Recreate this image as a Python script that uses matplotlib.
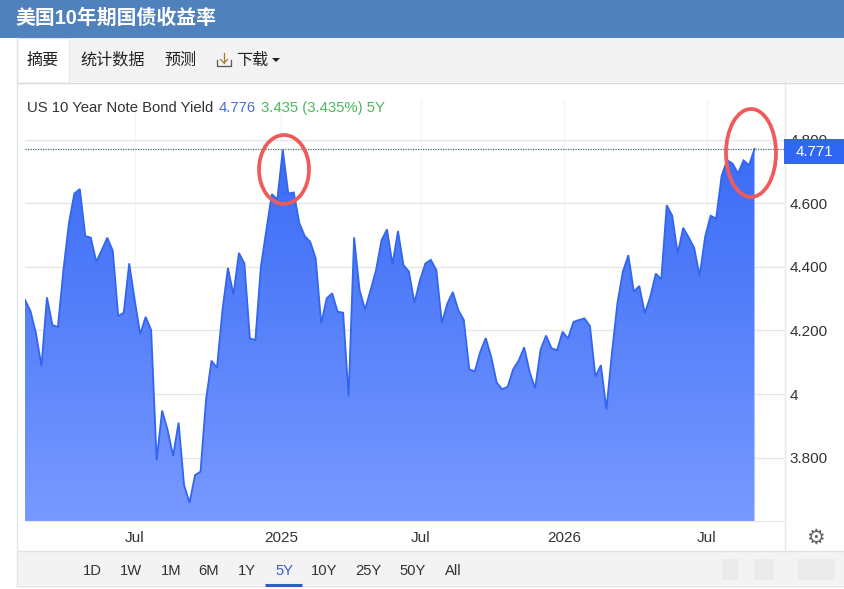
import numpy as np
import matplotlib
matplotlib.use("Agg")
import matplotlib.pyplot as plt
from matplotlib.patches import Rectangle, Ellipse, Polygon
from matplotlib.colors import LinearSegmentedColormap

plt.rcParams['font.family'] = ['Liberation Sans', 'Noto Sans CJK SC', 'DejaVu Sans']

title = "美国10年期国债收益率"
tabs = ["摘要", "统计数据", "预测", "下载"]
ranges = ["1D", "1W", "1M", "6M", "1Y", "5Y", "10Y", "25Y", "50Y", "All"]
yields = [
    4.296, 4.261, 4.191, 4.088, 4.304, 4.217, 4.211, 4.390, 4.537, 4.631,
    4.645, 4.497, 4.492, 4.416, 4.453, 4.492, 4.451, 4.245, 4.256, 4.411,
    4.296, 4.188, 4.243, 4.201, 3.792, 3.948, 3.887, 3.805, 3.910, 3.714,
    3.658, 3.745, 3.756, 3.981, 4.105, 4.082, 4.264, 4.397, 4.313, 4.444,
    4.411, 4.175, 4.170, 4.400, 4.516, 4.629, 4.612, 4.769, 4.631, 4.634,
    4.539, 4.497, 4.479, 4.427, 4.222, 4.301, 4.317, 4.259, 4.256, 3.992,
    4.493, 4.327, 4.266, 4.327, 4.390, 4.484, 4.518, 4.408, 4.513, 4.406,
    4.385, 4.287, 4.358, 4.411, 4.422, 4.390, 4.224, 4.285, 4.321, 4.264,
    4.233, 4.078, 4.071, 4.133, 4.176, 4.117, 4.036, 4.015, 4.023, 4.078,
    4.105, 4.147, 4.070, 4.018, 4.140, 4.184, 4.144, 4.138, 4.196, 4.175,
    4.227, 4.233, 4.238, 4.214, 4.055, 4.091, 3.952, 4.128, 4.285, 4.385,
    4.437, 4.322, 4.340, 4.254, 4.306, 4.379, 4.361, 4.594, 4.561, 4.442,
    4.523, 4.493, 4.460, 4.372, 4.495, 4.561, 4.552, 4.686, 4.736, 4.725,
    4.694, 4.735, 4.720, 4.771,
]
weeks = np.arange(len(yields))
x_tick_pos = [20.0, 46.7, 72.2, 98.3, 124.3]
x_tick_labels = ["Jul", "2025", "Jul", "2026", "Jul"]
y_ticks = [3.8, 4.0, 4.2, 4.4, 4.6, 4.8]
y_tick_labels = ["3.800", "4", "4.200", "4.400", "4.600", "4.800"]
last_value = 4.771

W, H = 844, 589
fig = plt.figure(figsize=(W / 100, H / 100), dpi=100, facecolor="white")

# page chrome, in pixels
bg = fig.add_axes([0, 0, 1, 1], zorder=0)
bg.set_xlim(0, W); bg.set_ylim(H, 0); bg.axis("off")
bg.add_patch(Rectangle((0, 0), W, 37.5, fc="#4f81bd", ec="none"))
bg.text(15, 18, title, color="white", fontsize=14.3, fontweight="bold", va="center", ha="left")
bg.add_patch(Rectangle((17, 38), W - 17, 44, fc="#f3f3f3", ec="none"))
bg.plot([17, W], [82.5, 82.5], color="#d8d8d8", lw=1)
bg.add_patch(Rectangle((17, 38), 52, 44.5, fc="white", ec="#e4e4e4", lw=0.8))
for label, x in zip(tabs, [27, 80, 164, 236]):
    bg.text(x, 60, label, color="#222222", fontsize=11.6, va="center", ha="left")
bg.plot([217, 217, 231, 231], [60, 66, 66, 60], color="#555555", lw=0.9)
bg.plot([224, 224], [53, 63], color="#a87a30", lw=0.9)
bg.plot([220.5, 224, 227.5], [59.5, 63, 59.5], color="#a87a30", lw=0.9)
bg.add_patch(Polygon([[272, 58], [280, 58], [276, 62]], fc="#222222", ec="none"))
bg.plot([16.5, 16.5], [38, 585], color="#e2e6ea", lw=1)
bg.add_patch(Rectangle((17, 551), W - 17, 34, fc="#f3f3f3", ec="none"))
bg.plot([17, W], [550.5, 550.5], color="#e2e2e2", lw=1)
bg.plot([17, W], [585.5, 585.5], color="#e2e2e2", lw=1)
bg.plot([784.5, 784.5], [82, 550], color="#e6e6e6", lw=1)
for label, x in zip(ranges, [92, 131, 171, 209, 247, 284, 324, 368, 413, 453]):
    bg.text(x, 571, label, color="#3a5fd0" if label == "5Y" else "#333333",
            fontsize=10.6, va="center", ha="center")
bg.plot([265, 302], [584.5, 584.5], color="#2f5cc4", lw=2.2, solid_capstyle="butt")
bg.text(815, 538, "\u2699", color="#666666", fontsize=15, va="center", ha="center", family="DejaVu Sans")
for x0, wd in [(722, 16), (754, 20), (798, 37)]:
    bg.add_patch(Rectangle((x0, 559), wd, 21, fc="#e9e9e9", ec="none", alpha=0.7))

# chart
left, right, top, bottom = 25, 784, 100, 521
ax = fig.add_axes([left / W, 1 - bottom / H, (right - left) / W, (bottom - top) / H], zorder=1)
ax.patch.set_alpha(0)
ymin, ymax = 3.6006, 4.925
ax.set_xlim(0, (right - left) / 5.485)
ax.set_ylim(ymin, ymax)
for s in ax.spines.values():
    s.set_visible(False)
ax.spines["bottom"].set_visible(True)
ax.spines["bottom"].set_color("#e6e6e6")
ax.yaxis.tick_right()
ax.set_yticks(y_ticks, y_tick_labels)
ax.set_xticks(x_tick_pos, x_tick_labels)
ax.tick_params(axis="y", length=0, pad=4, labelsize=11, labelcolor="#333333")
ax.tick_params(axis="x", length=0, pad=7, labelsize=11, labelcolor="#333333")
ax.grid(axis="y", color="#e6e6e6", lw=1)
ax.grid(axis="x", color="#f5f5f5", lw=1)
ax.set_axisbelow(True)

cmap = LinearSegmentedColormap.from_list("g", ["#7899ff", "#3a6cf6"])
poly = ax.fill_between(weeks, yields, ymin, color="none", lw=0)
grad = np.linspace(0, 1, 256).reshape(-1, 1)
im = ax.imshow(grad, origin="lower", cmap=cmap, aspect="auto", zorder=2,
               extent=[weeks[0], weeks[-1], ymin, max(yields)])
path = poly.get_paths()[0]
im.set_clip_path(path, transform=ax.transData)
ax.set_xlim(0, (right - left) / 5.485)
ax.set_ylim(ymin, ymax)
ax.plot(weeks, yields, color="#3366ee", lw=1.3, zorder=3, solid_joinstyle="miter")
ax.axhline(last_value, color="#3f6f7f", lw=0.9, ls=(0, (1, 1)), zorder=4)

# overlay: chart caption, current value flag and hand-drawn circles
fg = fig.add_axes([0, 0, 1, 1], zorder=2)
fg.set_xlim(0, W); fg.set_ylim(H, 0); fg.axis("off"); fg.patch.set_alpha(0)
fg.text(27, 108, "US 10 Year Note Bond Yield", color="#333333", fontsize=10.7, va="center", ha="left")
fg.text(219, 108, "4.776", color="#4a6ee0", fontsize=10.7, va="center", ha="left")
fg.text(261, 108, "3.435 (3.435%) 5Y", color="#4cb85c", fontsize=10.7, va="center", ha="left")
fg.add_patch(Rectangle((784, 139), 60, 25, fc="#2f66f2", ec="none"))
fg.text(814, 152.5, f"{last_value:.3f}", color="white", fontsize=10.8, va="center", ha="center")
fg.add_patch(Ellipse((284, 169.5), 50, 69, fc="none", ec="#ef5b5b", lw=2.7))
fg.add_patch(Ellipse((751, 153), 50, 88, fc="none", ec="#ef5b5b", lw=2.7))

fig.savefig("out.png", dpi=100)
